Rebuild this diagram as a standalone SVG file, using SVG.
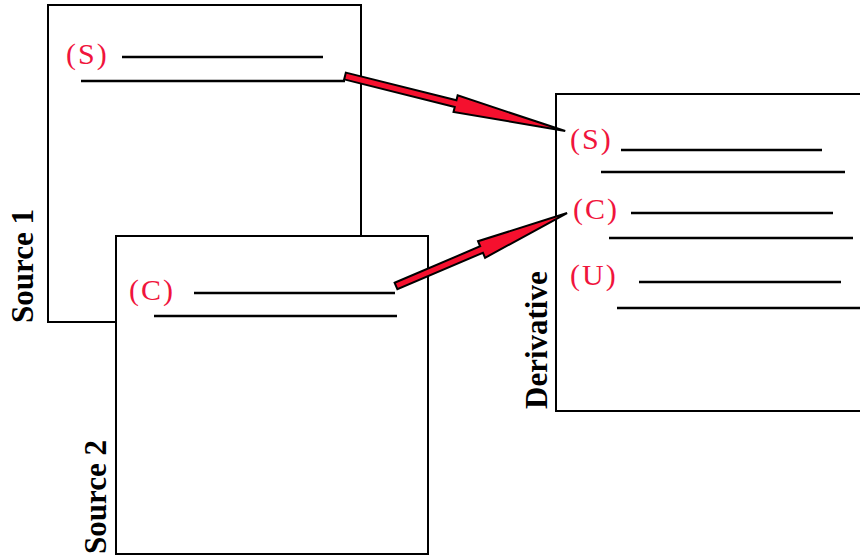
<svg xmlns="http://www.w3.org/2000/svg" width="860" height="555" viewBox="0 0 860 555">
<style>
.box{fill:#fff;stroke:#000;stroke-width:2}
.ln{stroke:#000;stroke-width:2.6;fill:none}
.lbl{font-family:"Liberation Serif","Times New Roman",serif;font-size:30px;fill:#f0143c;letter-spacing:2px}
.title{font-family:"Liberation Serif","Times New Roman",serif;font-size:31px;font-weight:bold;fill:#000}
.arrow{fill:#f5102e;stroke:#000;stroke-width:2;stroke-linejoin:miter}
</style>
<rect width="860" height="555" fill="#fff"/>
<g id="source1">
<rect class="box" x="48" y="5" width="313" height="317"/>
<text class="lbl" x="66" y="64">(S)</text>
<line class="ln" x1="122" y1="57" x2="323" y2="57"/>
<line class="ln" x1="81" y1="81" x2="345" y2="81"/>
<text class="title" transform="translate(33,323) rotate(-90)">Source 1</text>
</g>
<g id="source2">
<rect class="box" x="116" y="236" width="312" height="318"/>
<text class="lbl" x="129" y="300">(C)</text>
<line class="ln" x1="194" y1="293" x2="395" y2="293"/>
<line class="ln" x1="154" y1="316" x2="397" y2="316"/>
<text class="title" transform="translate(106,554) rotate(-90)">Source 2</text>
</g>
<g id="derivative">
<rect class="box" x="556" y="94" width="320" height="317"/>
<text class="lbl" x="570" y="149">(S)</text>
<line class="ln" x1="621" y1="150" x2="822" y2="150"/>
<line class="ln" x1="601" y1="172" x2="845" y2="172"/>
<text class="lbl" x="573" y="219">(C)</text>
<line class="ln" x1="631" y1="213" x2="833" y2="213"/>
<line class="ln" x1="609" y1="238" x2="853" y2="238"/>
<text class="lbl" x="570" y="285">(U)</text>
<line class="ln" x1="639" y1="282" x2="841" y2="282"/>
<line class="ln" x1="617" y1="308" x2="862" y2="308"/>
<text class="title" transform="translate(547,409) rotate(-90)">Derivative</text>
</g>
<g id="connectors">
<polygon class="arrow" transform="translate(345,76) rotate(14.04)" points="0,-3.5 114,-3.5 114,-8.5 227,0 114,8.5 114,3.5 0,3.5"/>
<polygon class="arrow" transform="translate(396,286) rotate(-23.1)" points="0,-3.5 93,-3.5 93,-9 186,0 93,9 93,3.5 0,3.5"/>
</g>
</svg>
